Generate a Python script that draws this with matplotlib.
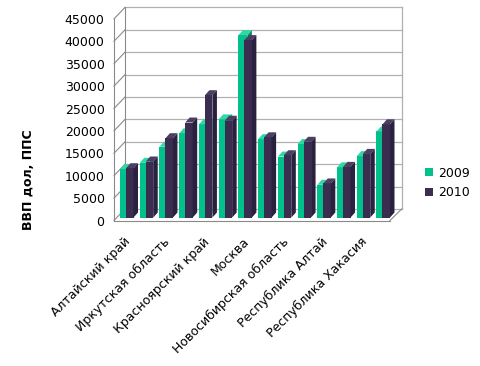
import matplotlib
matplotlib.use("Agg")
import matplotlib.pyplot as plt
from matplotlib.patches import Polygon, Patch

# ---- data ----
categories = ["Алтайский край", "Забайкальский край", "Иркутская область",
              "Кемеровская область", "Красноярский край", "Ленинградская область",
              "Москва", "Новосибирск", "Новосибирская область", "Омская область",
              "Республика Алтай", "Республика Бурятия", "Республика Хакасия",
              "Томская область"]
shown_labels = categories[::2]
values_2009 = [10800, 12200, 15800, 18800, 20800, 21900, 40700,
               17500, 13600, 16400, 7300, 11200, 13700, 19200]
values_2010 = [11000, 12500, 17700, 21200, 27300, 21600, 39600,
               17900, 13900, 16900, 7600, 11300, 14200, 20800]
series_names = ["2009", "2010"]
y_ticks = [0, 5000, 10000, 15000, 20000, 25000, 30000, 35000, 40000, 45000]

# ---- styling / geometry ----
W, H = 480, 366
PX_X = 19.73          # pixels per category unit
PX_Y = 4.48 / 1000.0  # pixels per value unit
X0_PIX = 128.5        # pixel of category 0
Y0_PIX = 217.5        # pixel (from top) of value 0 at bar front

def ux(px):  # pixel offset -> data x
    return px / PX_X

def uy(px):  # pixel offset -> data y
    return px / PX_Y

green_face, green_top, green_side = "#00C08C", "#30D9A4", "#00936A"
purp_face, purp_top, purp_side = "#3A2D4F", "#4B3E63", "#2A2040"

fig = plt.figure(figsize=(W / 100, H / 100), dpi=100)
ax_l, ax_r, ax_t, ax_b = 108, 412, 0, 230
ax = fig.add_axes([ax_l / W, 1 - ax_b / H, (ax_r - ax_l) / W, (ax_b - ax_t) / H])
ax.set_xlim(ux(ax_l - X0_PIX), ux(ax_r - X0_PIX))
ax.set_ylim(uy(Y0_PIX - ax_b), uy(Y0_PIX - ax_t))
for s in ax.spines.values():
    s.set_visible(False)
ax.patch.set_alpha(0)

# walls
FRONT = uy(-3.0)          # front edge offset (value units)
BACK = uy(8.5)            # back wall offset
XL_F, XL_B = ux(114 - X0_PIX), ux(125 - X0_PIX)
XR_F, XR_B = ux(390 - X0_PIX), ux(401.7 - X0_PIX)
ymax = y_ticks[-1]
grid_c = "#B0B0B0"
edge_c = "#8A8A8A"
for v in y_ticks:
    ax.plot([XL_B, XR_B], [v + BACK, v + BACK], color=grid_c, lw=0.9, zorder=1)
    ax.plot([XL_F, XL_B], [v + FRONT, v + BACK], color=edge_c, lw=0.8, zorder=1)
ax.plot([XL_F, XL_F], [FRONT, ymax + FRONT], color=edge_c, lw=0.8, zorder=1)
ax.plot([XL_B, XL_B], [BACK, ymax + BACK], color=edge_c, lw=0.8, zorder=1)
ax.plot([XR_B, XR_B], [BACK, ymax + BACK], color=grid_c, lw=0.9, zorder=1)
ax.plot([XL_F, XR_F], [FRONT, FRONT], color=edge_c, lw=0.8, zorder=1)
ax.plot([XR_F, XR_B], [FRONT, BACK], color=edge_c, lw=0.8, zorder=1)

# bars
DX, DY = ux(4.5), uy(5.0)

def bar3d(x, w, h, face, top, side, z):
    ax.add_patch(Polygon([(x, 0), (x + w, 0), (x + w, h), (x, h)],
                         closed=True, fc=face, ec="none", zorder=z))
    ax.add_patch(Polygon([(x, h), (x + w, h), (x + w + DX, h + DY), (x + DX, h + DY)],
                         closed=True, fc=top, ec="none", zorder=z))
    ax.add_patch(Polygon([(x + w, 0), (x + w + DX, DY), (x + w + DX, h + DY), (x + w, h)],
                         closed=True, fc=side, ec="none", zorder=z))

gw, pw = ux(9), ux(7.5)
for i in range(len(categories)):
    bar3d(i + ux(120 - X0_PIX), gw, values_2009[i], green_face, green_top, green_side, 3 + 2 * i)
    bar3d(i + ux(126 - X0_PIX), pw, values_2010[i], purp_face, purp_top, purp_side, 4 + 2 * i)

# ticks
ax.set_yticks([v + FRONT for v in y_ticks], labels=[str(v) for v in y_ticks])
ax.set_xticks(range(0, len(categories), 2), labels=shown_labels)
ax.tick_params(axis="y", length=0, pad=2.5, labelsize=9)
ax.tick_params(axis="x", length=0, pad=7, labelsize=9)
for lab in ax.get_xticklabels():
    lab.set_rotation(45)
    lab.set_ha("right")
    lab.set_va("center")
    lab.set_rotation_mode("anchor")

fig.text(29 / W, 1 - 180 / H, "ВВП дол, ППС", rotation=90, fontsize=9,
         fontweight="bold", ha="center", va="center")

handles = [Patch(fc=green_face, ec="none"), Patch(fc=purp_face, ec="none")]
fig.legend(handles, series_names, loc="center left",
           bbox_to_anchor=(414 / W, 1 - 183 / H), frameon=False,
           fontsize=9, handlelength=0.6, handleheight=0.6,
           handletextpad=0.45, labelspacing=0.55)

fig.savefig("out.png", dpi=100, facecolor="white")
